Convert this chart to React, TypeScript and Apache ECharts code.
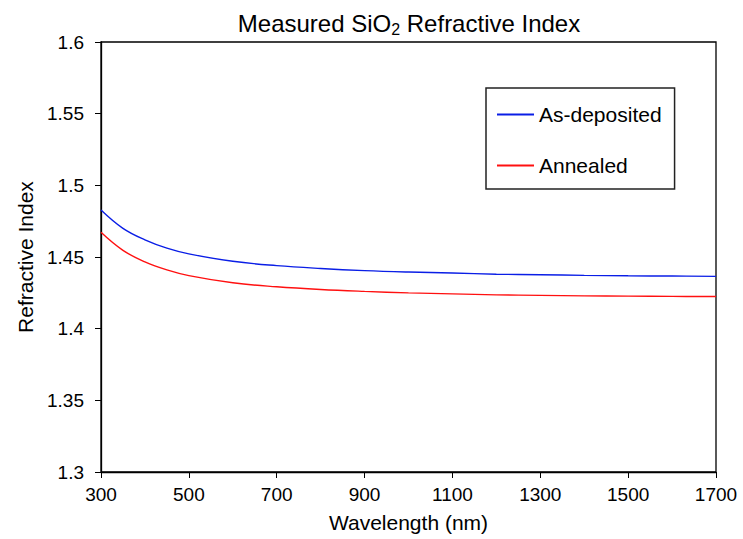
import React, { useEffect, useRef } from "react";
import * as echarts from "echarts";

const wavelengths = [300, 350, 400, 450, 500, 600, 700, 800, 900, 1000, 1100, 1200, 1300, 1400, 1500, 1600, 1700];
const asDeposited = [1.4828, 1.47, 1.462, 1.4562, 1.4522, 1.447, 1.444, 1.442, 1.4405, 1.4395, 1.4388, 1.438, 1.4376, 1.4372, 1.4369, 1.4367, 1.4365];
const annealed = [1.4672, 1.4546, 1.4466, 1.441, 1.437, 1.432, 1.4292, 1.4273, 1.426, 1.425, 1.4243, 1.4236, 1.4232, 1.4229, 1.4227, 1.4225, 1.4224];
const seriesNames = ["As-deposited", "Annealed"];
const xTicks = { min: 300, max: 1700, interval: 200 };
const yTicks = { min: 1.3, max: 1.6, interval: 0.05 };

const FONT = "Liberation Sans, Arial, sans-serif";

export default function App() {
  const ref = useRef<HTMLDivElement>(null);
  useEffect(() => {
    if (!ref.current) return;
    const chart = echarts.init(ref.current, null, { renderer: "svg" });
    const mk = (ys: number[]) => wavelengths.map((w, i) => [w, ys[i]]);
    chart.setOption({
      animation: false,
      backgroundColor: "#ffffff",
      title: {
        text: "Measured SiO{sub|2} Refractive Index",
        left: 404,
        textAlign: "center",
        top: 4,
        textStyle: {
          fontFamily: FONT,
          fontSize: 24,
          fontWeight: "normal",
          color: "#000",
          rich: {
            sub: { fontFamily: FONT, fontSize: 16, verticalAlign: "bottom", padding: [12, 0, 0, 0], color: "#000" },
          },
        },
      },
      legend: {
        orient: "vertical",
        left: 486,
        top: 88,
        padding: [16, 13, 13, 11],
        itemGap: 30,
        itemWidth: 37,
        itemHeight: 2,
        icon: "rect",
        borderColor: "#222",
        borderWidth: 1.5,
        textStyle: { fontFamily: FONT, fontSize: 21, color: "#000" },
        data: seriesNames,
      },
      grid: {
        left: 101,
        right: 27,
        top: 42,
        bottom: 67,
        show: true,
        borderColor: "#000",
        borderWidth: 1.3,
      },
      xAxis: {
        type: "value",
        min: xTicks.min,
        max: xTicks.max,
        interval: xTicks.interval,
        name: "Wavelength (nm)",
        nameLocation: "middle",
        nameGap: 40,
        nameTextStyle: { fontFamily: FONT, fontSize: 21, color: "#000" },
        axisLine: { lineStyle: { color: "#000", width: 1.3 } },
        axisTick: { inside: false, length: 6, lineStyle: { color: "#000" } },
        axisLabel: { fontFamily: FONT, fontSize: 19, color: "#000", margin: 13, formatter: (v: number) => String(v) },
        splitLine: { show: false },
      },
      yAxis: {
        type: "value",
        min: yTicks.min,
        max: yTicks.max,
        interval: yTicks.interval,
        name: "Refractive Index",
        nameLocation: "middle",
        nameGap: 64,
        nameTextStyle: { fontFamily: FONT, fontSize: 21, color: "#000" },
        axisLine: { show: true, lineStyle: { color: "#000", width: 1.3 } },
        axisTick: { show: true, inside: false, length: 6, lineStyle: { color: "#000" } },
        axisLabel: { fontFamily: FONT, fontSize: 19, color: "#000", margin: 17, formatter: (v: number) => String(Math.round(v * 100) / 100) },
        splitLine: { show: false },
      },
      series: [
        {
          name: seriesNames[0],
          type: "line",
          data: mk(asDeposited),
          smooth: 0.4,
          showSymbol: false,
          color: "#0a1ee6",
          lineStyle: { color: "#0a1ee6", width: 1.4 },
        },
        {
          name: seriesNames[1],
          type: "line",
          data: mk(annealed),
          smooth: 0.4,
          showSymbol: false,
          color: "#ff1010",
          lineStyle: { color: "#ff1010", width: 1.4 },
        },
      ],
    });
    return () => chart.dispose();
  }, []);
  return <div ref={ref} style={{ width: 743, height: 539, position: "absolute", left: 0, top: 0 }} />;
}
